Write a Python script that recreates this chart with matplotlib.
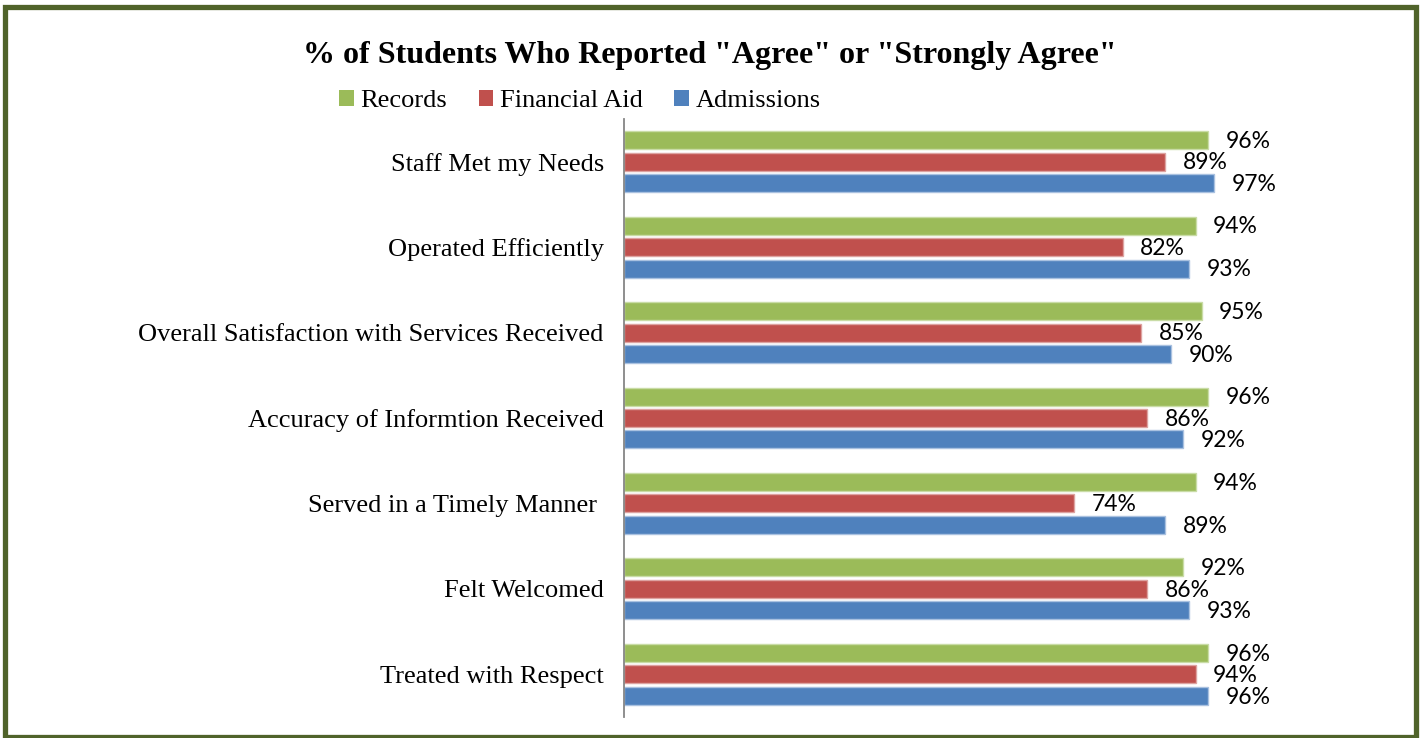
import matplotlib
matplotlib.use("Agg")
import matplotlib.pyplot as plt
from matplotlib.patches import Rectangle, Patch
import numpy as np

categories = [
    "Staff Met my Needs",
    "Operated Efficiently",
    "Overall Satisfaction with Services Received",
    "Accuracy of Informtion Received",
    "Served in a Timely Manner ",
    "Felt Welcomed",
    "Treated with Respect",
]
series_names = ["Records", "Financial Aid", "Admissions"]
records = [96, 94, 95, 96, 94, 92, 96]
financial_aid = [89, 82, 85, 86, 74, 86, 94]
admissions = [97, 93, 90, 92, 89, 93, 96]
colors = ["#9BBB59", "#C0504D", "#4F81BD"]
edge_colors = ["#C9DCA6", "#DDA3A1", "#A9C1E0"]
title = '% of Students Who Reported "Agree" or "Strongly Agree"'

W, H = 1421, 738
fig = plt.figure(figsize=(W / 100, H / 100), dpi=100)

# frame around the chart
fig.patches.append(Rectangle((5 / W, 1 - 737 / H), (1416 - 5) / W, (737 - 6.5) / H,
                             transform=fig.transFigure, fill=False,
                             edgecolor="#50632A", linewidth=3.8))

ax = fig.add_axes([624 / W, 1 - 717 / H, (1232 - 624) / W, (717 - 119) / H])

y = np.arange(len(categories))
pitch = 0.251
bar_h = 0.21
for i, (vals, c, ec) in enumerate(zip([records, financial_aid, admissions], colors, edge_colors)):
    pos = y + (i - 1) * pitch
    ax.barh(pos, vals, height=bar_h, color=c, edgecolor=ec, linewidth=1.0, zorder=2)
    for p, v in zip(pos, vals):
        ax.text(v + 2.9, p + 0.015, f"{v}%", va="center", ha="left",
                fontsize=16.5, family=["Lato", "DejaVu Sans"], color="black",
                clip_on=False)

ax.set_xlim(0, 100)
ax.set_ylim(len(categories) - 0.5, -0.5)
ax.set_yticks(y)
ax.set_yticklabels(categories, family=["Liberation Serif"], fontsize=19)
ax.tick_params(axis="y", length=0, pad=14.5)
ax.set_xticks([])
for s in ["top", "right", "bottom"]:
    ax.spines[s].set_visible(False)
ax.spines["left"].set_color("#868686")
ax.spines["left"].set_linewidth(1.3)

fig.text(710 / W, 1 - 55 / H, title, ha="center", va="center",
         family=["Liberation Serif"], fontweight="bold", fontsize=23)

handles = [Patch(facecolor=c, edgecolor="none") for c in colors]
fig.legend(handles, series_names, loc="center", bbox_to_anchor=(580 / W, 1 - 101 / H),
           ncol=3, frameon=False, prop={"family": "Liberation Serif", "size": 19},
           handlelength=0.55, handleheight=0.55, handletextpad=0.25, columnspacing=1.2,
           borderpad=0)

fig.savefig("out.png", dpi=100, facecolor="white")
